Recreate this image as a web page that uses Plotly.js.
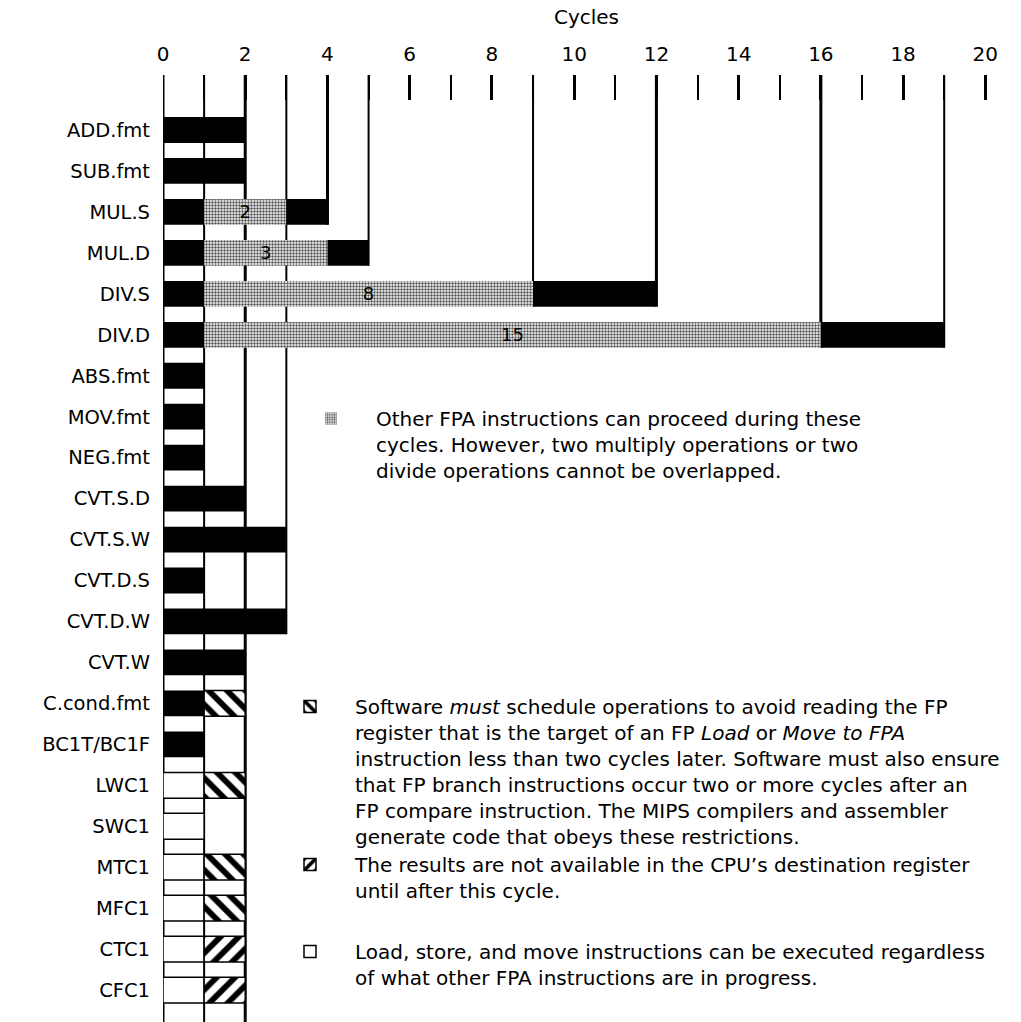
<!DOCTYPE html>
<html>
<head>
<meta charset="utf-8">
<script src="https://cdn.plot.ly/plotly-3.0.1.min.js"></script>
<style>html,body{margin:0;padding:0;background:#fff;}#chart{width:1021px;height:1022px;}</style>
</head>
<body>
<div id="chart"></div>
<script>
// ---- data ----
const instructions = ['ADD.fmt','SUB.fmt','MUL.S','MUL.D','DIV.S','DIV.D','ABS.fmt','MOV.fmt','NEG.fmt',
  'CVT.S.D','CVT.S.W','CVT.D.S','CVT.D.W','CVT.W','C.cond.fmt','BC1T/BC1F','LWC1','SWC1','MTC1','MFC1','CTC1','CFC1'];

// FPA busy cycles (black)
const busyInstr  = ['ADD.fmt','SUB.fmt','MUL.S','MUL.S','MUL.D','MUL.D','DIV.S','DIV.S','DIV.D','DIV.D',
  'ABS.fmt','MOV.fmt','NEG.fmt','CVT.S.D','CVT.S.W','CVT.D.S','CVT.D.W','CVT.W','C.cond.fmt','BC1T/BC1F'];
const busyStart  = [0,0,0,3,0,4,0,9,0,16,0,0,0,0,0,0,0,0,0,0];
const busyCycles = [2,2,1,1,1,1,1,3,1,3,1,1,1,2,3,1,3,2,1,1];

// overlappable cycles (stippled)
const overlapInstr  = ['MUL.S','MUL.D','DIV.S','DIV.D'];
const overlapStart  = [1,1,1,1];
const overlapCycles = [2,3,8,15];

// software-must-schedule cycles (back hatch)
const schedInstr  = ['C.cond.fmt','LWC1','MTC1','MFC1'];
const schedStart  = [1,1,1,1];
const schedCycles = [1,1,1,1];

// CPU result not available (forward hatch)
const resultInstr  = ['CTC1','CFC1'];
const resultStart  = [1,1];
const resultCycles = [1,1];

// load/store/move (white)
const moveInstr  = ['LWC1','SWC1','MTC1','MFC1','CTC1','CFC1'];
const moveStart  = [0,0,0,0,0,0];
const moveCycles = [1,1,1,1,1,1];

// cycle boundary lines and the last instruction each one reaches
const boundaryCycle = [0,1,2,3,4,5,9,12,16,19];
const boundaryLast  = ['CFC1','CFC1','CFC1','CVT.D.W','MUL.S','MUL.D','DIV.S','DIV.S','DIV.D','DIV.D'];

const tickValues = [0,2,4,6,8,10,12,14,16,18,20];

const legendText = [
  'Other FPA instructions can proceed during these<br>cycles. However, two multiply operations or two<br>divide operations cannot be overlapped.',
  'Software <i>must</i> schedule operations to avoid reading the FP<br>register that is the target of an FP <i>Load</i> or <i>Move to FPA</i><br>instruction less than two cycles later. Software must also ensure<br>that FP branch instructions occur two or more cycles after an<br>FP compare instruction. The MIPS compilers and assembler<br>generate code that obeys these restrictions.',
  'The results are not available in the CPU\u2019s destination register<br>until after this cycle.',
  'Load, store, and move instructions can be executed regardless<br>of what other FPA instructions are in progress.'
];

// ---- chart ----
const FONT = 'DejaVu Sans';
const BARW = 0.63;
const yTop = -1.343, yBottom = 21.78;
const W = 1021, H = 1022, ML = 163, MR = 11, MT = 75, MB = 0;
const px2x = p => (p - ML) / (W - ML - MR);
const px2y = p => 1 - (p - MT) / (H - MT - MB);

const traces = [
  {type:'bar', orientation:'h', y:moveInstr, x:moveCycles, base:moveStart, width:BARW,
   name:legendText[3], legend:'legend4', showlegend:true,
   marker:{color:'#ffffff', line:{color:'#000', width:1.5}}, hoverinfo:'skip'},
  {type:'bar', orientation:'h', y:schedInstr, x:schedCycles, base:schedStart, width:BARW,
   name:legendText[1], legend:'legend2', showlegend:true,
   marker:{color:'#ffffff', line:{color:'#000', width:1.5},
     pattern:{shape:'\\', fgcolor:'#000', bgcolor:'#fff', size:13, solidity:0.45}}, hoverinfo:'skip'},
  {type:'bar', orientation:'h', y:resultInstr, x:resultCycles, base:resultStart, width:BARW,
   name:legendText[2], legend:'legend3', showlegend:true,
   marker:{color:'#ffffff', line:{color:'#000', width:1.5},
     pattern:{shape:'/', fgcolor:'#000', bgcolor:'#fff', size:13, solidity:0.45}}, hoverinfo:'skip'},
  {type:'bar', orientation:'h', y:overlapInstr, x:overlapCycles, base:overlapStart, width:BARW,
   name:legendText[0], legend:'legend', showlegend:true,
   text:overlapCycles.map(String), textposition:'inside', insidetextanchor:'middle', textangle:0,
   textfont:{family:FONT, size:18, color:'#000'}, constraintext:'none',
   marker:{color:'#ffffff', line:{width:0},
     pattern:{shape:'.', fgcolor:'#555', bgcolor:'#fff', size:3, solidity:0.5}}, hoverinfo:'skip'},
  {type:'bar', orientation:'h', y:busyInstr, x:busyCycles, base:busyStart, width:BARW,
   name:'busy', showlegend:false,
   marker:{color:'#000', line:{width:0}}, hoverinfo:'skip'}
];

const lastIdx = instructions.length - 1;
const shapes = boundaryCycle.map((c, i) => {
  const r = instructions.indexOf(boundaryLast[i]);
  const yEnd = (r === lastIdx) ? yBottom : r + BARW / 2;
  return {type:'line', layer:'below', xref:'x', yref:'y', x0:c, x1:c, y0:yTop, y1:yEnd,
          line:{color:'#000', width:(c % 2 === 0) ? 3 : 2}};
});

const legendBase = {bgcolor:'rgba(0,0,0,0)', borderwidth:0, xref:'paper', yref:'paper',
  xanchor:'left', yanchor:'top', itemwidth:80, valign:'top', tracegroupgap:0,
  font:{family:FONT, size:20, color:'#000'}, itemclick:false, itemdoubleclick:false};

const layout = {
  width:W, height:H,
  margin:{l:ML, r:MR, t:MT, b:MB, autoexpand:false},
  paper_bgcolor:'#fff', plot_bgcolor:'#fff',
  barmode:'overlay',
  font:{family:FONT, color:'#000'},
  xaxis:{side:'top', range:[0, 20.6], autorange:false, tickmode:'array', tickvals:tickValues,
    ticks:'inside', ticklen:25, tickwidth:3, tickcolor:'#000',
    minor:{dtick:1, ticks:'inside', ticklen:25, tickwidth:2, tickcolor:'#000', showgrid:false},
    showgrid:false, zeroline:false, showline:false, ticklabelstandoff:9, automargin:false,
    tickfont:{family:FONT, size:20, color:'#000'},
    title:{text:'Cycles', font:{family:FONT, size:20, color:'#000'}, standoff:12}},
  yaxis:{type:'category', categoryorder:'array', categoryarray:instructions,
    range:[yBottom, yTop], autorange:false, showgrid:false, zeroline:false, showline:false,
    ticks:'', ticklabelstandoff:12, automargin:false, tickfont:{family:FONT, size:19.5, color:'#000'}},
  shapes:shapes,
  showlegend:true,
  legend: Object.assign({}, legendBase, {x:px2x(286), y:px2y(399)}),
  legend2:Object.assign({}, legendBase, {x:px2x(265), y:px2y(687)}),
  legend3:Object.assign({}, legendBase, {x:px2x(265), y:px2y(845)}),
  legend4:Object.assign({}, legendBase, {x:px2x(265), y:px2y(932)})
};

Plotly.newPlot('chart', traces, layout, {displayModeBar:false, staticPlot:true});
</script>
</body>
</html>
